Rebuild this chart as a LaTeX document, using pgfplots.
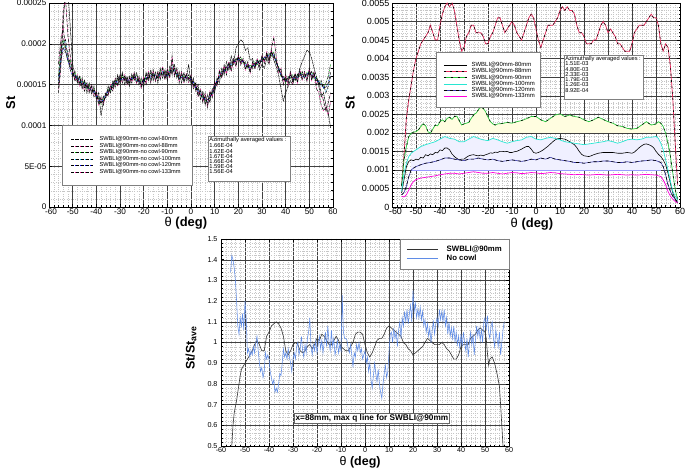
\documentclass[border=0pt]{standalone}
\usepackage{fontspec}
\setmainfont{Liberation Sans}
\usepackage{pgfplots}
\usepackage{pgfplotstable}
\pgfplotsset{compat=1.18}
\usepgfplotslibrary{fillbetween}
\definecolor{tpred}{RGB}{230,40,90}
\definecolor{tpgreen}{RGB}{40,200,60}
\definecolor{tpcyan}{RGB}{40,230,210}
\definecolor{tpblue}{RGB}{60,60,170}
\definecolor{tpmag}{RGB}{255,0,220}
\definecolor{cblue}{RGB}{95,140,230}
\pgfplotsset{
  tec/.style={
    scale only axis, anchor=south west,
    xmin=-60, xmax=60,
    xtick={-60,-50,-40,-30,-20,-10,0,10,20,30,40,50,60},
    xticklabels={\hspace{4bp}-60,-50,-40,-30,-20,-10,0,10,20,30,40,50,60},
    minor x tick num=4, minor y tick num=4,
    grid=both,
    major grid style={black!75, line width=0.35pt},
    minor grid style={gray!45, line width=0.2pt, dotted},
    axis line style={black, line width=0.7pt},
    tick style={black, line width=0.4pt},
    major tick length=3bp, minor tick length=1.5bp,
    tick align=inside,
    /pgf/number format/assume math mode=true,
    scaled ticks=false,
    legend cell align=left,
    label style={font=\bfseries\fontsize{13}{14}\selectfont},
  },
  tl/.style={black, line width=0.5pt, dash pattern=on 3pt off 2pt,
    postaction={draw=#1, dash pattern=on 1pt off 4pt, dash phase=1.5pt}},
}
\begin{document}
\pgfplotstableread{
x a b c d e f
-56 1.45e-4 1.75e-4 1.60e-4 1.55e-4 1.50e-4 1.40e-4
-55 1.80e-4 2.05e-4 1.95e-4 1.85e-4 1.78e-4 1.70e-4
-54 2.25e-4 2.20e-4 2.05e-4 2.00e-4 1.95e-4 2.40e-4
-53 2.70e-4 1.95e-4 1.92e-4 2.05e-4 1.90e-4 2.55e-4
-52 2.65e-4 1.90e-4 1.78e-4 1.82e-4 1.80e-4 2.10e-4
-51 2.20e-4 1.70e-4 1.80e-4 1.72e-4 1.68e-4 1.85e-4
-50 1.75e-4 1.68e-4 1.62e-4 1.66e-4 1.60e-4 1.65e-4
-49 1.62e-4 1.55e-4 1.66e-4 1.58e-4 1.62e-4 1.55e-4
-48 1.52e-4 1.62e-4 1.54e-4 1.60e-4 1.55e-4 1.58e-4
-47 1.60e-4 1.50e-4 1.60e-4 1.52e-4 1.57e-4 1.48e-4
-46 1.45e-4 1.58e-4 1.50e-4 1.55e-4 1.50e-4 1.52e-4
-45 1.55e-4 1.46e-4 1.55e-4 1.48e-4 1.52e-4 1.42e-4
-44 1.40e-4 1.52e-4 1.45e-4 1.50e-4 1.46e-4 1.50e-4
-43 1.52e-4 1.40e-4 1.50e-4 1.44e-4 1.46e-4 1.42e-4
-42 1.38e-4 1.50e-4 1.42e-4 1.47e-4 1.43e-4 1.48e-4
-41 1.48e-4 1.38e-4 1.45e-4 1.40e-4 1.43e-4 1.35e-4
-40 1.32e-4 1.42e-4 1.35e-4 1.38e-4 1.36e-4 1.40e-4
-39 1.40e-4 1.28e-4 1.36e-4 1.30e-4 1.33e-4 1.25e-4
-38 1.12e-4 1.35e-4 1.26e-4 1.32e-4 1.28e-4 1.30e-4
-37 1.30e-4 1.25e-4 1.36e-4 1.30e-4 1.34e-4 1.28e-4
-36 1.35e-4 1.40e-4 1.34e-4 1.40e-4 1.36e-4 1.36e-4
-35 1.48e-4 1.36e-4 1.45e-4 1.40e-4 1.43e-4 1.38e-4
-34 1.40e-4 1.50e-4 1.42e-4 1.48e-4 1.44e-4 1.46e-4
-33 1.55e-4 1.45e-4 1.52e-4 1.48e-4 1.50e-4 1.42e-4
-32 1.47e-4 1.58e-4 1.50e-4 1.55e-4 1.51e-4 1.54e-4
-31 1.62e-4 1.50e-4 1.58e-4 1.53e-4 1.56e-4 1.48e-4
-30 1.52e-4 1.62e-4 1.55e-4 1.60e-4 1.56e-4 1.60e-4
-29 1.65e-4 1.55e-4 1.62e-4 1.56e-4 1.59e-4 1.52e-4
-28 1.50e-4 1.60e-4 1.55e-4 1.58e-4 1.56e-4 1.62e-4
-27 1.60e-4 1.52e-4 1.58e-4 1.54e-4 1.56e-4 1.50e-4
-26 1.48e-4 1.60e-4 1.52e-4 1.57e-4 1.54e-4 1.58e-4
-25 1.63e-4 1.55e-4 1.60e-4 1.56e-4 1.58e-4 1.52e-4
-24 1.55e-4 1.65e-4 1.58e-4 1.62e-4 1.59e-4 1.62e-4
-23 1.65e-4 1.52e-4 1.62e-4 1.55e-4 1.58e-4 1.52e-4
-22 1.50e-4 1.58e-4 1.54e-4 1.56e-4 1.54e-4 1.60e-4
-21 1.58e-4 1.48e-4 1.55e-4 1.50e-4 1.53e-4 1.45e-4
-20 1.48e-4 1.60e-4 1.52e-4 1.56e-4 1.54e-4 1.58e-4
-19 1.65e-4 1.52e-4 1.62e-4 1.56e-4 1.59e-4 1.50e-4
-18 1.55e-4 1.66e-4 1.58e-4 1.62e-4 1.59e-4 1.64e-4
-17 1.68e-4 1.56e-4 1.64e-4 1.58e-4 1.61e-4 1.52e-4
-16 1.55e-4 1.65e-4 1.60e-4 1.63e-4 1.61e-4 1.68e-4
-15 1.66e-4 1.55e-4 1.62e-4 1.58e-4 1.61e-4 1.54e-4
-14 1.52e-4 1.64e-4 1.58e-4 1.61e-4 1.59e-4 1.66e-4
-13 1.70e-4 1.58e-4 1.66e-4 1.61e-4 1.64e-4 1.56e-4
-12 1.58e-4 1.70e-4 1.62e-4 1.66e-4 1.64e-4 1.72e-4
-11 1.68e-4 1.58e-4 1.66e-4 1.60e-4 1.63e-4 1.56e-4
-10 1.55e-4 1.66e-4 1.60e-4 1.63e-4 1.61e-4 1.70e-4
-9 1.72e-4 1.60e-4 1.68e-4 1.63e-4 1.66e-4 1.58e-4
-8 1.62e-4 1.80e-4 1.66e-4 1.72e-4 1.68e-4 1.85e-4
-7 1.75e-4 1.62e-4 1.70e-4 1.64e-4 1.67e-4 1.60e-4
-6 1.58e-4 1.68e-4 1.60e-4 1.64e-4 1.62e-4 1.70e-4
-5 1.66e-4 1.56e-4 1.62e-4 1.58e-4 1.61e-4 1.52e-4
-4 1.52e-4 1.64e-4 1.58e-4 1.62e-4 1.59e-4 1.66e-4
-3 1.65e-4 1.55e-4 1.60e-4 1.56e-4 1.59e-4 1.52e-4
-2 1.55e-4 1.62e-4 1.58e-4 1.61e-4 1.59e-4 1.64e-4
-1 1.75e-4 1.56e-4 1.62e-4 1.57e-4 1.59e-4 1.52e-4
0 1.50e-4 1.60e-4 1.55e-4 1.58e-4 1.55e-4 1.62e-4
1 1.58e-4 1.48e-4 1.55e-4 1.50e-4 1.53e-4 1.45e-4
2 1.42e-4 1.52e-4 1.45e-4 1.49e-4 1.46e-4 1.50e-4
3 1.50e-4 1.38e-4 1.45e-4 1.40e-4 1.43e-4 1.35e-4
4 1.32e-4 1.42e-4 1.36e-4 1.40e-4 1.37e-4 1.45e-4
5 1.42e-4 1.30e-4 1.38e-4 1.33e-4 1.36e-4 1.28e-4
6 1.25e-4 1.36e-4 1.30e-4 1.34e-4 1.31e-4 1.40e-4
7 1.38e-4 1.25e-4 1.32e-4 1.28e-4 1.31e-4 1.22e-4
8 1.28e-4 1.40e-4 1.33e-4 1.37e-4 1.34e-4 1.42e-4
9 1.45e-4 1.36e-4 1.42e-4 1.38e-4 1.41e-4 1.34e-4
10 1.40e-4 1.52e-4 1.45e-4 1.49e-4 1.46e-4 1.54e-4
11 1.58e-4 1.50e-4 1.56e-4 1.53e-4 1.56e-4 1.48e-4
12 1.52e-4 1.65e-4 1.58e-4 1.62e-4 1.59e-4 1.68e-4
13 1.70e-4 1.60e-4 1.66e-4 1.63e-4 1.66e-4 1.58e-4
14 1.62e-4 1.72e-4 1.66e-4 1.69e-4 1.66e-4 1.74e-4
15 1.78e-4 1.65e-4 1.72e-4 1.68e-4 1.71e-4 1.62e-4
16 1.68e-4 1.76e-4 1.70e-4 1.74e-4 1.71e-4 1.78e-4
17 1.85e-4 1.70e-4 1.78e-4 1.73e-4 1.76e-4 1.66e-4
18 1.75e-4 1.82e-4 1.76e-4 1.80e-4 1.77e-4 1.80e-4
19 1.95e-4 1.74e-4 1.82e-4 1.78e-4 1.81e-4 1.72e-4
20 2.00e-4 1.85e-4 1.80e-4 1.83e-4 1.81e-4 1.86e-4
21 2.05e-4 1.76e-4 1.84e-4 1.78e-4 1.81e-4 1.74e-4
22 2.02e-4 1.80e-4 1.76e-4 1.79e-4 1.77e-4 1.82e-4
23 1.92e-4 1.70e-4 1.78e-4 1.73e-4 1.76e-4 1.68e-4
24 1.95e-4 1.75e-4 1.70e-4 1.73e-4 1.71e-4 1.78e-4
25 1.80e-4 1.66e-4 1.74e-4 1.68e-4 1.71e-4 1.64e-4
26 1.82e-4 1.76e-4 1.70e-4 1.74e-4 1.72e-4 1.78e-4
27 1.70e-4 1.72e-4 1.78e-4 1.73e-4 1.76e-4 1.70e-4
28 1.78e-4 1.80e-4 1.74e-4 1.79e-4 1.76e-4 1.82e-4
29 1.68e-4 1.75e-4 1.80e-4 1.76e-4 1.79e-4 1.72e-4
30 1.75e-4 1.84e-4 1.78e-4 1.82e-4 1.79e-4 1.86e-4
31 1.70e-4 1.78e-4 1.84e-4 1.80e-4 1.83e-4 1.76e-4
32 1.82e-4 1.88e-4 1.82e-4 1.86e-4 1.83e-4 1.90e-4
33 1.75e-4 1.80e-4 1.88e-4 1.83e-4 1.86e-4 1.78e-4
34 1.90e-4 1.92e-4 1.85e-4 1.89e-4 1.86e-4 1.95e-4
35 1.80e-4 1.82e-4 1.90e-4 1.86e-4 1.86e-4 2.08e-4
36 1.72e-4 1.80e-4 1.76e-4 1.79e-4 1.77e-4 1.85e-4
37 1.62e-4 1.68e-4 1.72e-4 1.69e-4 1.71e-4 1.65e-4
38 1.45e-4 1.66e-4 1.60e-4 1.63e-4 1.61e-4 1.70e-4
39 1.30e-4 1.55e-4 1.60e-4 1.56e-4 1.58e-4 1.50e-4
40 1.40e-4 1.60e-4 1.52e-4 1.56e-4 1.54e-4 1.62e-4
41 1.48e-4 1.52e-4 1.60e-4 1.55e-4 1.58e-4 1.48e-4
42 1.55e-4 1.65e-4 1.57e-4 1.62e-4 1.59e-4 1.66e-4
43 1.50e-4 1.55e-4 1.62e-4 1.56e-4 1.59e-4 1.52e-4
44 1.62e-4 1.62e-4 1.55e-4 1.59e-4 1.56e-4 1.64e-4
45 1.58e-4 1.55e-4 1.63e-4 1.58e-4 1.61e-4 1.52e-4
46 1.70e-4 1.66e-4 1.60e-4 1.65e-4 1.62e-4 1.68e-4
47 1.78e-4 1.58e-4 1.66e-4 1.60e-4 1.63e-4 1.55e-4
48 1.85e-4 1.64e-4 1.58e-4 1.62e-4 1.59e-4 1.66e-4
49 1.92e-4 1.56e-4 1.65e-4 1.60e-4 1.63e-4 1.54e-4
50 1.90e-4 1.68e-4 1.62e-4 1.67e-4 1.64e-4 1.70e-4
51 1.82e-4 1.58e-4 1.66e-4 1.60e-4 1.63e-4 1.55e-4
52 1.70e-4 1.64e-4 1.57e-4 1.62e-4 1.59e-4 1.66e-4
53 1.60e-4 1.50e-4 1.60e-4 1.55e-4 1.58e-4 1.45e-4
54 1.48e-4 1.55e-4 1.50e-4 1.54e-4 1.51e-4 1.40e-4
55 1.35e-4 1.40e-4 1.55e-4 1.48e-4 1.52e-4 1.25e-4
56 1.40e-4 1.30e-4 1.45e-4 1.50e-4 1.46e-4 1.18e-4
57 1.25e-4 1.18e-4 1.52e-4 1.40e-4 1.47e-4 1.22e-4
58 1.15e-4 1.28e-4 1.60e-4 1.48e-4 1.52e-4 1.12e-4
59 0.97e-4 1.40e-4 1.75e-4 1.60e-4 1.65e-4 1.30e-4
}\TLdata
\pgfplotstableread{
x y
-56 0.00038
-55 0.00073
-54 0.00109
-53 0.00123
-52 0.00127
-51 0.00125
-50 0.00129
-49 0.00127
-48 0.00134
-47 0.00132
-46 0.00141
-45 0.00138
-44 0.00143
-43 0.00141
-42 0.00147
-41 0.00146
-40 0.00154
-39 0.00152
-38 0.00159
-37 0.00159
-36 0.00154
-35 0.00143
-34 0.00136
-33 0.00131
-32 0.00127
-31 0.00129
-30 0.00129
-29 0.00134
-28 0.00138
-27 0.00140
-26 0.00141
-25 0.00139
-24 0.00138
-23 0.00140
-22 0.00138
-21 0.00141
-20 0.00143
-19 0.00146
-18 0.00145
-17 0.00148
-16 0.00147
-15 0.00150
-14 0.00150
-13 0.00149
-12 0.00150
-11 0.00147
-10 0.00147
-9 0.00149
-8 0.00150
-7 0.00153
-6 0.00156
-5 0.00160
-4 0.00163
-3 0.00163
-2 0.00156
-1 0.00147
0 0.00145
1 0.00147
2 0.00150
3 0.00154
4 0.00159
5 0.00164
6 0.00170
7 0.00176
8 0.00181
9 0.00184
10 0.00185
11 0.00184
12 0.00183
13 0.00180
14 0.00176
15 0.00172
16 0.00168
17 0.00160
18 0.00150
19 0.00142
20 0.00138
21 0.00137
22 0.00136
23 0.00138
24 0.00141
26 0.00145
28 0.00147
30 0.00147
32 0.00147
34 0.00145
36 0.00145
38 0.00147
40 0.00145
41 0.00148
42 0.00154
43 0.00160
44 0.00165
45 0.00169
46 0.00170
47 0.00168
48 0.00165
49 0.00160
50 0.00150
51 0.00142
52 0.00136
53 0.00127
54 0.00114
55 0.00091
56 0.00064
57 0.00038
58 0.00020
59 0.00011
}\TRa
\pgfplotstableread{
x y
-56 0.0006
-55 0.0014
-54 0.0024
-53 0.0029
-52 0.0033
-51 0.0037
-50 0.0040
-49 0.0042
-48 0.0044
-47 0.0045
-46 0.0046
-45 0.0047
-44 0.0049
-43 0.0047
-42 0.0045
-41 0.0045
-40 0.0049
-39 0.0052
-38 0.0054
-37 0.0055
-36 0.0054
-35 0.0055
-34 0.0053
-33 0.0049
-32 0.0045
-31 0.0042
-30 0.0043
-29 0.0046
-28 0.0047
-27 0.0049
-26 0.0049
-25 0.0047
-24 0.0047
-23 0.0047
-22 0.0046
-21 0.0044
-20 0.0044
-19 0.0046
-18 0.0047
-17 0.0049
-16 0.0051
-15 0.0051
-14 0.0049
-13 0.0047
-12 0.0048
-11 0.0049
-10 0.0050
-9 0.0049
-8 0.0047
-7 0.0046
-6 0.0045
-5 0.0047
-4 0.0049
-3 0.0051
-2 0.0052
-1 0.0051
0 0.0048
1 0.0045
2 0.0043
3 0.0045
4 0.0047
5 0.0049
6 0.0049
7 0.0049
8 0.0050
9 0.0051
10 0.0053
11 0.0054
12 0.0053
13 0.0054
14 0.0053
15 0.0053
16 0.0052
17 0.0049
18 0.0047
19 0.0047
20 0.0046
21 0.0044
22 0.0044
23 0.0044
24 0.0045
25 0.0045
26 0.0047
27 0.0049
28 0.0050
29 0.0049
30 0.0047
31 0.0048
32 0.0047
33 0.0046
34 0.0044
35 0.0044
36 0.0043
37 0.0042
38 0.0042
39 0.0042
40 0.0044
41 0.0047
42 0.0048
43 0.0049
44 0.0049
45 0.0049
46 0.0050
47 0.0051
48 0.0052
49 0.0051
50 0.0051
51 0.0049
52 0.0044
53 0.0042
54 0.0044
55 0.0043
56 0.0038
57 0.0029
58 0.0017
59 0.0006
}\TRb
\pgfplotstableread{
x y
-56 0.00056
-55 0.00127
-54 0.00163
-53 0.00190
-52 0.00199
-51 0.00202
-50 0.00203
-49 0.00208
-48 0.00217
-47 0.00224
-46 0.00219
-45 0.00203
-44 0.00199
-43 0.00210
-42 0.00221
-41 0.00219
-40 0.00230
-39 0.00235
-38 0.00230
-37 0.00239
-36 0.00242
-35 0.00236
-34 0.00244
-33 0.00245
-32 0.00233
-31 0.00221
-30 0.00224
-29 0.00226
-28 0.00228
-27 0.00239
-26 0.00248
-25 0.00253
-24 0.00262
-23 0.00269
-22 0.00266
-21 0.00257
-20 0.00242
-19 0.00230
-18 0.00224
-17 0.00221
-16 0.00224
-14 0.00225
-12 0.00228
-10 0.00226
-8 0.00230
-6 0.00233
-4 0.00238
-2 0.00244
0 0.00244
2 0.00235
4 0.00230
6 0.00239
8 0.00248
10 0.00251
12 0.00244
14 0.00248
16 0.00244
18 0.00242
20 0.00235
22 0.00230
24 0.00235
26 0.00242
28 0.00236
30 0.00230
32 0.00226
34 0.00219
36 0.00217
38 0.00212
40 0.00210
42 0.00212
44 0.00221
46 0.00230
48 0.00221
50 0.00224
51 0.00230
52 0.00226
53 0.00217
54 0.00199
55 0.00172
56 0.00136
57 0.00091
58 0.00047
59 0.00020
}\TRc
\pgfplotstableread{
x y
-56 0.00042
-55 0.00091
-54 0.00118
-53 0.00136
-52 0.00145
-51 0.00150
-50 0.00154
-48 0.00163
-46 0.00168
-44 0.00172
-42 0.00176
-40 0.00183
-38 0.00190
-36 0.00185
-34 0.00183
-32 0.00176
-30 0.00176
-28 0.00183
-26 0.00190
-24 0.00185
-22 0.00181
-20 0.00179
-18 0.00185
-16 0.00181
-14 0.00176
-12 0.00172
-10 0.00176
-8 0.00179
-6 0.00181
-4 0.00188
-2 0.00190
0 0.00183
2 0.00181
4 0.00185
6 0.00188
8 0.00185
10 0.00181
12 0.00176
14 0.00174
16 0.00172
18 0.00170
20 0.00168
22 0.00170
24 0.00172
26 0.00174
28 0.00176
30 0.00179
32 0.00176
34 0.00172
36 0.00176
38 0.00181
40 0.00183
42 0.00181
44 0.00183
46 0.00188
48 0.00188
50 0.00190
51 0.00185
52 0.00172
53 0.00154
54 0.00127
55 0.00100
56 0.00069
57 0.00042
58 0.00029
59 0.00020
}\TRd
\pgfplotstableread{
x y
-56 0.00033
-55 0.00039
-54 0.00056
-53 0.00082
-52 0.00100
-51 0.00105
-50 0.00109
-48 0.00114
-46 0.00118
-44 0.00120
-42 0.00123
-40 0.00127
-38 0.00132
-36 0.00132
-34 0.00129
-32 0.00127
-30 0.00125
-28 0.00129
-26 0.00129
-24 0.00132
-22 0.00129
-20 0.00127
-18 0.00129
-16 0.00125
-14 0.00123
-12 0.00125
-10 0.00127
-8 0.00125
-6 0.00123
-4 0.00125
-2 0.00129
0 0.00127
2 0.00132
4 0.00129
6 0.00134
8 0.00129
10 0.00127
12 0.00125
14 0.00123
16 0.00120
18 0.00120
20 0.00118
22 0.00120
24 0.00122
26 0.00122
28 0.00124
30 0.00124
32 0.00122
34 0.00120
36 0.00120
38 0.00122
40 0.00120
42 0.00122
44 0.00124
46 0.00125
48 0.00127
50 0.00125
52 0.00120
53 0.00109
54 0.00087
55 0.00060
56 0.00042
57 0.00029
58 0.00021
59 0.00015
}\TRe
\pgfplotstableread{
x y
-56 0.00029
-55 0.00027
-54 0.00033
-53 0.00046
-52 0.00060
-51 0.00069
-50 0.00074
-48 0.00078
-46 0.00080
-44 0.00082
-42 0.00084
-40 0.00087
-38 0.00089
-36 0.00091
-34 0.00091
-32 0.00089
-30 0.00091
-28 0.00093
-26 0.00095
-24 0.00093
-22 0.00091
-20 0.00091
-18 0.00093
-16 0.00091
-14 0.00089
-12 0.00091
-10 0.00093
-8 0.00092
-6 0.00090
-4 0.00091
-2 0.00093
0 0.00092
2 0.00090
4 0.00091
6 0.00093
8 0.00092
10 0.00090
12 0.00089
14 0.00088
16 0.00087
18 0.00088
20 0.00087
22 0.00086
24 0.00087
26 0.00088
28 0.00087
30 0.00086
32 0.00087
34 0.00088
36 0.00087
38 0.00086
40 0.00087
42 0.00086
44 0.00087
46 0.00088
48 0.00087
50 0.00086
52 0.00082
53 0.00073
54 0.00060
55 0.00042
56 0.00029
57 0.00021
58 0.00015
59 0.00011
}\TRf
\pgfplotstableread{
x y
-55.5 0.50
-55.0 0.60
-54.5 0.66
-54.0 0.69
-53.5 0.72
-53.0 0.76
-52.5 0.80
-52.0 0.84
-51.5 0.87
-51.0 0.88
-50.5 0.89
-50.0 0.90
-49.0 0.92
-48.0 0.94
-47.0 0.96
-46.0 0.99
-45.0 1.01
-44.0 0.99
-43.0 0.96
-42.0 0.96
-41.0 1.03
-40.0 1.05
-39.0 1.08
-38.0 1.09
-37.0 1.10
-36.0 1.09
-35.0 1.07
-34.0 1.03
-33.0 0.96
-32.0 0.94
-31.0 0.96
-30.0 0.99
-29.0 1.00
-28.0 0.99
-27.0 0.96
-26.0 0.95
-25.0 0.96
-24.0 0.98
-23.0 0.99
-22.0 0.97
-21.0 0.99
-20.0 1.02
-19.0 1.01
-18.0 1.04
-17.0 1.03
-16.0 1.01
-15.0 0.99
-14.0 0.99
-13.0 1.01
-12.0 1.03
-11.0 1.01
-10.0 0.98
-9.0 0.97
-8.0 0.96
-7.0 0.96
-6.0 0.98
-5.0 1.00
-4.0 1.04
-3.0 1.05
-2.0 1.05
-1.0 1.04
0.0 0.99
1.0 0.95
2.0 0.93
3.0 0.95
4.0 0.98
5.0 1.01
6.0 1.02
7.0 1.02
8.0 1.04
9.0 1.07
10.0 1.08
11.0 1.07
12.0 1.06
13.0 1.05
14.0 1.04
15.0 1.03
16.0 1.00
17.0 0.99
18.0 0.97
19.0 0.96
20.0 0.94
21.0 0.95
22.0 0.96
23.0 0.97
24.0 0.98
25.0 1.00
26.0 1.02
27.0 1.01
28.0 1.00
29.0 0.99
30.0 0.99
31.0 0.99
32.0 1.00
33.0 0.99
34.0 0.97
35.0 0.96
36.0 0.94
37.0 0.92
38.0 0.92
39.0 0.94
40.0 0.98
41.0 0.99
42.0 0.99
43.0 0.99
44.0 1.02
45.0 1.03
46.0 1.04
47.0 1.06
48.0 1.07
49.0 1.06
50.0 1.05
50.5 1.02
51.0 0.95
51.5 0.89
52.0 0.92
53.0 0.93
54.0 0.90
55.0 0.85
56.0 0.79
56.5 0.70
57.0 0.60
57.5 0.50
}\BTa
\pgfplotstableread{
x y
-56.0 1.34
-55.5 1.42
-55.0 1.40
-54.5 1.36
-54.0 1.30
-53.5 1.20
-53.0 1.08
-52.5 1.04
-52.0 1.12
-51.5 1.08
-51.0 1.14
-50.5 1.06
-50.0 1.20
-49.5 1.12
-49.0 0.95
-48.5 0.97
-48.0 0.93
-47.5 0.96
-47.0 0.94
-46.5 0.98
-46.0 0.95
-45.5 1.00
-45.0 1.03
-44.5 0.96
-44.0 0.90
-43.5 0.86
-43.0 0.88
-42.5 0.83
-42.0 0.86
-41.5 0.95
-41.0 0.92
-40.5 0.94
-40.0 0.92
-39.5 0.86
-39.0 0.83
-38.5 0.80
-38.0 0.82
-37.5 0.76
-37.0 0.78
-36.5 0.76
-36.0 0.80
-35.5 0.85
-35.0 0.84
-34.5 0.90
-34.0 0.97
-33.5 0.93
-33.0 0.95
-32.5 0.92
-32.0 0.97
-31.5 0.93
-31.0 0.90
-30.5 0.86
-30.0 0.92
-29.5 0.95
-29.0 0.92
-28.5 0.98
-28.0 1.00
-27.5 0.94
-27.0 0.97
-26.5 1.03
-26.0 0.96
-25.5 0.93
-25.0 0.99
-24.5 0.95
-24.0 1.02
-23.5 1.05
-23.0 1.12
-22.5 0.98
-22.0 0.94
-21.5 0.99
-21.0 0.96
-20.5 1.01
-20.0 0.95
-19.5 0.99
-19.0 1.03
-18.5 0.97
-18.0 1.01
-17.5 0.95
-17.0 1.00
-16.5 1.05
-16.0 0.98
-15.5 1.08
-15.0 1.00
-14.5 0.96
-14.0 1.06
-13.5 0.98
-13.0 1.02
-12.5 0.94
-12.0 0.97
-11.5 1.01
-11.0 0.95
-10.5 0.99
-10.0 0.96
-9.5 1.23
-9.0 1.05
-8.5 1.02
-8.0 1.02
-7.5 1.01
-7.0 0.97
-6.5 0.95
-6.0 0.99
-5.5 0.94
-5.0 0.88
-4.5 0.95
-4.0 0.93
-3.5 0.99
-3.0 0.96
-2.5 1.00
-2.0 0.95
-1.5 0.97
-1.0 0.92
-0.5 0.94
0.0 0.96
0.5 0.90
1.0 0.93
1.5 0.86
2.0 0.90
2.5 0.82
3.0 0.78
3.5 0.84
4.0 0.90
4.5 0.85
5.0 0.81
5.5 0.87
6.0 0.80
6.5 0.76
7.0 0.73
7.5 0.80
8.0 0.85
8.5 0.89
9.0 0.83
9.5 0.86
10.0 0.95
10.5 1.04
11.0 1.05
11.5 1.00
12.0 1.07
12.5 1.02
13.0 1.05
13.5 0.98
14.0 1.06
14.5 1.10
15.0 1.02
15.5 1.12
16.0 1.08
16.5 1.15
17.0 1.10
17.5 1.16
18.0 1.09
18.5 1.14
19.0 1.18
19.5 1.10
20.0 1.25
20.5 1.15
21.0 1.19
21.5 1.12
22.0 1.16
22.5 1.12
23.0 1.17
23.5 1.11
24.0 1.15
24.5 1.08
25.0 1.11
25.5 1.05
26.0 1.09
26.5 1.03
27.0 1.07
27.5 1.00
28.0 1.06
28.5 1.10
29.0 1.04
29.5 1.09
30.0 1.12
30.5 1.08
31.0 1.16
31.5 1.11
32.0 1.15
32.5 1.10
33.0 1.16
33.5 1.08
34.0 1.12
34.5 1.04
35.0 1.10
35.5 1.03
36.0 1.07
36.5 1.02
37.0 1.08
37.5 1.00
38.0 1.05
38.5 0.99
39.0 1.03
39.5 0.97
40.0 1.04
40.5 0.98
41.0 1.05
41.5 1.00
42.0 0.96
42.5 1.02
43.0 0.93
43.5 1.00
44.0 1.05
44.5 0.99
45.0 1.04
45.5 0.94
46.0 1.01
46.5 1.08
47.0 1.03
47.5 1.07
48.0 1.01
48.5 1.06
49.0 1.00
49.5 1.10
50.0 1.12
50.5 1.06
51.0 1.13
51.5 1.05
52.0 1.02
52.5 1.08
53.0 1.10
53.5 1.02
54.0 0.98
54.5 1.06
55.0 1.02
55.5 0.98
56.0 1.05
56.5 0.94
57.0 1.00
57.5 1.06
58.0 1.10
}\BTb
\begin{tikzpicture}
% ---------------- top left ----------------
\begin{axis}[tec, at={(49bp,263bp)}, width=284bp, height=204bp,
  ymin=0, ymax=0.00025,
  ytick={0,0.00005,0.0001,0.00015,0.0002,0.00025},
  yticklabels={0,5E-05,0.0001,0.00015,0.0002,0.00025},
  ticklabel style={font=\fontsize{8.2}{9}\selectfont},
  xticklabel style={inner sep=1.2bp},
  yticklabel style={inner sep=2.5bp},
  xlabel={{\mdseries θ} (deg)}, ylabel={St},
  xlabel style={at={(axis description cs:0.482,-0.08)}, anchor=center},
  ylabel style={at={(axis description cs:-0.135,0.51)}, anchor=center},
  legend style={draw=none, fill=none, at={(0.0775,0.3495)}, anchor=north west,
    inner sep=0pt, font=\fontsize{5.7}{6}\selectfont,
    nodes={inner sep=0.5bp, text height=4.1bp, text depth=1.5bp}, column sep=5.3bp},
  legend image code/.code={\draw[#1] (0bp,0bp) -- (22bp,0bp);},
]
\addplot[tl=black] table[x=x,y=a]{\TLdata};
\addplot[tl=magenta] table[x=x,y=b]{\TLdata};
\addplot[tl=green!80!black] table[x=x,y=c]{\TLdata};
\addplot[tl=cyan] table[x=x,y=d]{\TLdata};
\addplot[tl=blue] table[x=x,y=e]{\TLdata};
\addplot[tl=magenta] table[x=x,y=f]{\TLdata};
\legend{SWBLI@90mm-no cowl-80mm,SWBLI@90mm-no cowl-88mm,SWBLI@90mm-no cowl-90mm,SWBLI@90mm-no cowl-100mm,SWBLI@90mm-no cowl-120mm,SWBLI@90mm-no cowl-133mm}
\draw[black!50, fill=white, line width=0.4pt] (rel axis cs:0.0458,0.402) rectangle (rel axis cs:0.5035,0.1078);
\draw[black!50, fill=white, line width=0.4pt] (rel axis cs:0.5599,0.348) rectangle (rel axis cs:0.849,0.1275);
\node[anchor=north west, inner sep=1.2bp, align=left, font=\fontsize{5.8}{5.2}\selectfont] at (rel axis cs:0.5599,0.348)
  {Azimuthally averaged values :\\1.66E-04\\1.62E-04\\1.67E-04\\1.66E-04\\1.59E-04\\1.56E-04};
\end{axis}
% ---------------- top right ----------------
\begin{axis}[tec, at={(392bp,263bp)}, width=288bp, height=204bp,
  ymin=0, ymax=0.0055,
  xticklabels={\hspace{7bp}-60,-50,-40,-30,-20,-10,0,10,20,30,40,50,60},
  ytick={0,0.0005,0.001,0.0015,0.002,0.0025,0.003,0.0035,0.004,0.0045,0.005,0.0055},
  yticklabels={0,0.0005,0.001,0.0015,0.002,0.0025,0.003,0.0035,0.004,0.0045,0.005,0.0055},
  ticklabel style={font=\fontsize{9}{10}\selectfont},
  xticklabel style={inner sep=1.2bp},
  yticklabel style={inner sep=2.5bp},
  xlabel={{\mdseries θ} (deg)}, ylabel={St},
  xlabel style={at={(axis description cs:0.486,-0.083)}, anchor=center},
  ylabel style={at={(axis description cs:-0.145,0.51)}, anchor=center},
  legend style={draw=none, fill=none, at={(0.178,0.711)}, anchor=north west,
    inner sep=0pt, font=\fontsize{6}{6}\selectfont,
    nodes={inner sep=0.4bp, text height=4.2bp, text depth=1.2bp}, column sep=4bp},
  legend image code/.code={\draw[#1] (0bp,0bp) -- (23bp,0bp);},
]
\addplot[draw=none, name path=G, forget plot] table[x=x,y=y]{\TRc};
\addplot[draw=none, name path=G0, forget plot] coordinates {(-52,0.002) (52,0.002)};
\addplot[yellow!12, forget plot] fill between[of=G and G0, soft clip={domain=-52:52}];
\addplot[draw=none, name path=C, forget plot] table[x=x,y=y]{\TRd};
\addplot[draw=none, name path=C0, forget plot] coordinates {(-52,0.001) (52,0.001)};
\addplot[blue!6, forget plot] fill between[of=C and C0, soft clip={domain=-52:52}];
\addplot[blue!40, line width=0.3pt, forget plot] coordinates {(-52,0.001) (52,0.001)};
\addplot[black, line width=0.6pt] table[x=x,y=y]{\TRa};
\addplot[tpred, line width=0.7pt, postaction={draw=black, line width=0.6pt, dash pattern=on 2pt off 4pt}] table[x=x,y=y]{\TRb};
\addplot[tpgreen, line width=0.7pt, postaction={draw=black, line width=0.6pt, dash pattern=on 2pt off 5pt}] table[x=x,y=y]{\TRc};
\addplot[tpcyan, line width=0.7pt] table[x=x,y=y]{\TRd};
\addplot[tpblue, line width=0.6pt, postaction={draw=black, dash pattern=on 3pt off 3pt}] table[x=x,y=y]{\TRe};
\addplot[tpmag, line width=0.7pt] table[x=x,y=y]{\TRf};
\legend{SWBLI@90mm-80mm,SWBLI@90mm-88mm,SWBLI@90mm-90mm,SWBLI@90mm-100mm,SWBLI@90mm-120mm,SWBLI@90mm-133mm}
\draw[black!50, fill=white, line width=0.4pt] (rel axis cs:0.1528,0.7598) rectangle (rel axis cs:0.5139,0.4902);
\draw[black!50, fill=white, line width=0.4pt] (rel axis cs:0.5972,0.7451) rectangle (rel axis cs:0.8715,0.5294);
\node[anchor=north west, inner sep=1.2bp, align=left, font=\fontsize{5.7}{5.3}\selectfont] at (rel axis cs:0.5972,0.7451)
  {Azimuthally averaged values :\\1.51E-03\\4.80E-03\\2.33E-03\\1.79E-03\\1.26E-03\\8.92E-04};
\end{axis}
% ---------------- bottom ----------------
\begin{axis}[tec, at={(221bp,24bp)}, width=288bp, height=207bp,
  ymin=0.5, ymax=1.5,
  xticklabels={-60,-50,-40,-30,-20,-10,0,10,20,30,40,50,60},
  ytick={0.5,0.6,0.7,0.8,0.9,1,1.1,1.2,1.3,1.4,1.5},
  yticklabels={0.5,0.6,0.7,0.8,0.9,1,1.1,1.2,1.3,1.4,1.5},
  ticklabel style={font=\fontsize{7.2}{8}\selectfont},
  xticklabel style={inner sep=1bp},
  label style={font=\bfseries\fontsize{12.5}{13}\selectfont},
  xlabel={{\mdseries θ} (deg)}, ylabel={St/St\textsubscript{ave}},
  xlabel style={at={(axis description cs:0.483,-0.078)}, anchor=center},
  ylabel style={at={(axis description cs:-0.104,0.473)}, anchor=center},
  legend style={draw=black!50, fill=white, at={(1,1)}, anchor=north east,
    inner xsep=6.5bp, inner ysep=6bp, font=\bfseries\fontsize{7.8}{8}\selectfont,
    nodes={inner sep=0.5bp, text height=6bp, text depth=2bp}, column sep=8bp},
  legend image code/.code={\draw[#1] (0bp,0bp) -- (31bp,0bp);},
]
\addplot[black!80, line width=0.6pt] table[x=x,y=y]{\BTa};
\addplot[cblue, line width=0.55pt] table[x=x,y=y]{\BTb};
\legend{SWBLI@90mm,No cowl}
\node[draw=black!60, fill=white, inner sep=1.3bp, font=\bfseries\fontsize{8.3}{9}\selectfont] at (rel axis cs:0.524,0.135) {x=88mm, max q line for SWBLI@90mm};
\end{axis}
\pgfresetboundingbox
\path[use as bounding box] (0bp,0bp) rectangle (685bp,470bp);
\end{tikzpicture}
\end{document}
